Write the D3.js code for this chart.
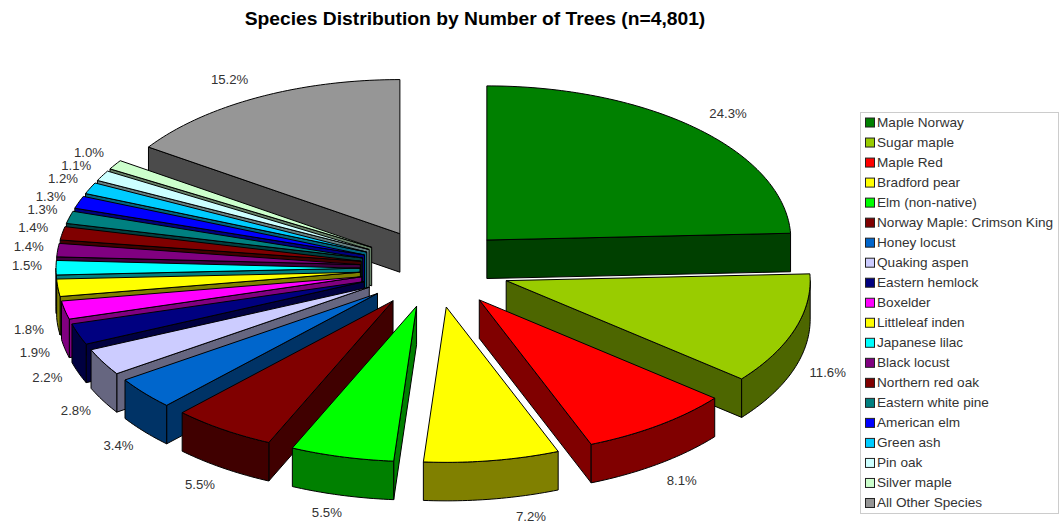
<!DOCTYPE html>
<html>
<head>
<meta charset="utf-8">
<title>Species Distribution</title>
<script src="https://cdn.jsdelivr.net/npm/d3@7"></script>
<style>
body { margin: 0; background: #fff; }
text { font-family: "Liberation Sans", Arial, sans-serif; fill: #333; }
</style>
</head>
<body>
<div id="chart"></div>
<script>
var species = ["Maple Norway", "Sugar maple", "Maple Red", "Bradford pear", "Elm (non-native)",
    "Norway Maple: Crimson King", "Honey locust", "Quaking aspen", "Eastern hemlock", "Boxelder",
    "Littleleaf inden", "Japanese lilac", "Black locust", "Northern red oak", "Eastern white pine",
    "American elm", "Green ash", "Pin oak", "Silver maple", "All Other Species"];
var percents = [24.3, 11.6, 8.1, 7.2, 5.5, 5.5, 3.4, 2.8, 2.2, 1.9, 1.8, 1.5, 1.4, 1.4, 1.3, 1.3, 1.2, 1.1, 1.0, 15.2];
var colors = ["#008000", "#99cc00", "#ff0000", "#ffff00", "#00ff00", "#800000", "#0066cc", "#ccccff",
    "#000080", "#ff00ff", "#ffff00", "#00ffff", "#800080", "#800000", "#008080", "#0000ff",
    "#00ccff", "#ccffff", "#ccffcc", "#969696"];

var svgWidth = 1060;
var svgHeight = 525;

// pie geometry
var pieCenter = { x: 435, y: 268.3 };
var radius = 304;
var tiltBack = 0.507;     // ry / rx of the rim, the near half is slightly bigger
var tiltFront = 0.511;
var explodeTilt = 0.522;  // the pull-out foreshortens a bit differently
var explode = 75;         // every slice is pulled out by the same amount
var depth = 38.5;

// where each % label sits relative to the slice's rim point
var labelNudge = [[31, -15], [33, 43], [23, 55.5], [39, 56], [-15, 56], [-23, 55], [-26, 52], [-27, 48.5],
    [-31, 43], [-30, 42.5], [-29, 42], [-29, -2], [-29, -4], [-29, -6], [-27, -8], [-28, -6],
    [-27, -10], [-26, -10], [-26, -12], [-28, -18]];

var svg = d3.select("#chart")
    .append("svg")
    .attr("width", svgWidth)
    .attr("height", svgHeight);

svg.append("text")
    .attr("x", 475)
    .attr("y", 25)
    .attr("text-anchor", "middle")
    .attr("font-size", 19.25)
    .attr("font-weight", "bold")
    .style("fill", "#000")
    .text("Species Distribution by Number of Trees (n=4,801)");

var color = d3.scaleOrdinal().domain(species).range(colors);
// labels are rounded and add up to 99.7, so angles are taken straight from the percents
var pie = d3.pie().sort(null)
    .value(function(d) { return d.value; })
    .endAngle(2 * Math.PI * d3.sum(percents) / 100);
var line = d3.line();

var slices = pie(species.map(function(s, i) { return { name: s, value: percents[i], i: i }; }));
// last slice closes the circle
slices[slices.length - 1].endAngle = 2 * Math.PI;

// map a pie angle and radius to screen coords around an apex
function project(apex, a, r) {
    var tilt = Math.cos(a) < 0 ? tiltFront : tiltBack;
    return [apex[0] + r * Math.sin(a), apex[1] - r * tilt * Math.cos(a)];
}

function rimPoints(apex, a0, a1) {
    var n = Math.max(2, Math.ceil((a1 - a0) * 60));
    return d3.range(n + 1).map(function(k) {
        return project(apex, a0 + (a1 - a0) * k / n, radius);
    });
}

function drop(p) {
    return [p[0], p[1] + depth];
}

slices.forEach(function(d) {
    d.mid = (d.startAngle + d.endAngle) / 2;
    d.apex = [pieCenter.x + explode * Math.sin(d.mid), pieCenter.y - explode * explodeTilt * Math.cos(d.mid)];
});

// paint back to front
var ordered = slices.slice().sort(function(a, b) {
    return Math.cos(b.mid) - Math.cos(a.mid);
});

var pieGroup = svg.append("g").attr("stroke", "#000").attr("stroke-width", 1).attr("stroke-linejoin", "round");

ordered.forEach(function(d) {
    var top = color(d.data.name);
    var c = d3.color(top);
    var wall = d3.rgb(c.r * 0.5, c.g * 0.5, c.b * 0.5).formatHex();
    var g = pieGroup.append("g");
    var startRim = project(d.apex, d.startAngle, radius);
    var endRim = project(d.apex, d.endAngle, radius);

    // radial wall, only the one that faces the viewer
    if (Math.sin(d.startAngle) < -1e-6) {
        g.append("path")
            .attr("fill", wall)
            .attr("d", line([d.apex, startRim, drop(startRim), drop(d.apex)]) + "Z");
    }
    if (Math.sin(d.endAngle) > 1e-6) {
        g.append("path")
            .attr("fill", wall)
            .attr("d", line([d.apex, endRim, drop(endRim), drop(d.apex)]) + "Z");
    }

    // outer wall, only the front half of the rim
    var a0 = Math.max(d.startAngle, Math.PI / 2);
    var a1 = Math.min(d.endAngle, Math.PI * 1.5);
    if (a1 > a0) {
        var rim = rimPoints(d.apex, a0, a1);
        g.append("path")
            .attr("fill", wall)
            .attr("d", line(rim.concat(rim.map(drop).reverse())) + "Z");
    }

    g.append("path")
        .attr("fill", top)
        .attr("d", line([d.apex].concat(rimPoints(d.apex, d.startAngle, d.endAngle))) + "Z");
});

// percent labels
svg.append("g")
    .selectAll("text")
    .data(slices)
    .enter()
    .append("text")
    .attr("x", function(d) { return project(d.apex, d.mid, radius)[0] + labelNudge[d.data.i][0]; })
    .attr("y", function(d) { return project(d.apex, d.mid, radius)[1] + labelNudge[d.data.i][1] + 4.5; })
    .attr("text-anchor", "middle")
    .attr("font-size", 13.2)
    .text(function(d) { return d.data.value.toFixed(1) + "%"; });

// legend
var legend = svg.append("g");
legend.append("rect")
    .attr("x", 860.5)
    .attr("y", 112.5)
    .attr("width", 198)
    .attr("height", 401)
    .attr("fill", "#fff")
    .attr("stroke", "#ccc");

var legendY = d3.scaleBand().domain(species).range([112.5, 513]);

var rows = legend.selectAll("g.row")
    .data(species)
    .enter()
    .append("g")
    .attr("class", "row")
    .attr("transform", function(d) { return "translate(0," + (legendY(d) + legendY.bandwidth() / 2) + ")"; });

rows.append("rect")
    .attr("x", 865.5)
    .attr("y", -4.5)
    .attr("width", 9)
    .attr("height", 9)
    .attr("fill", function(d) { return color(d); })
    .attr("stroke", "#222");

rows.append("text")
    .attr("x", 877)
    .attr("y", 4.5)
    .attr("font-size", 13.6)
    .text(function(d) { return d; });
</script>
</body>
</html>
